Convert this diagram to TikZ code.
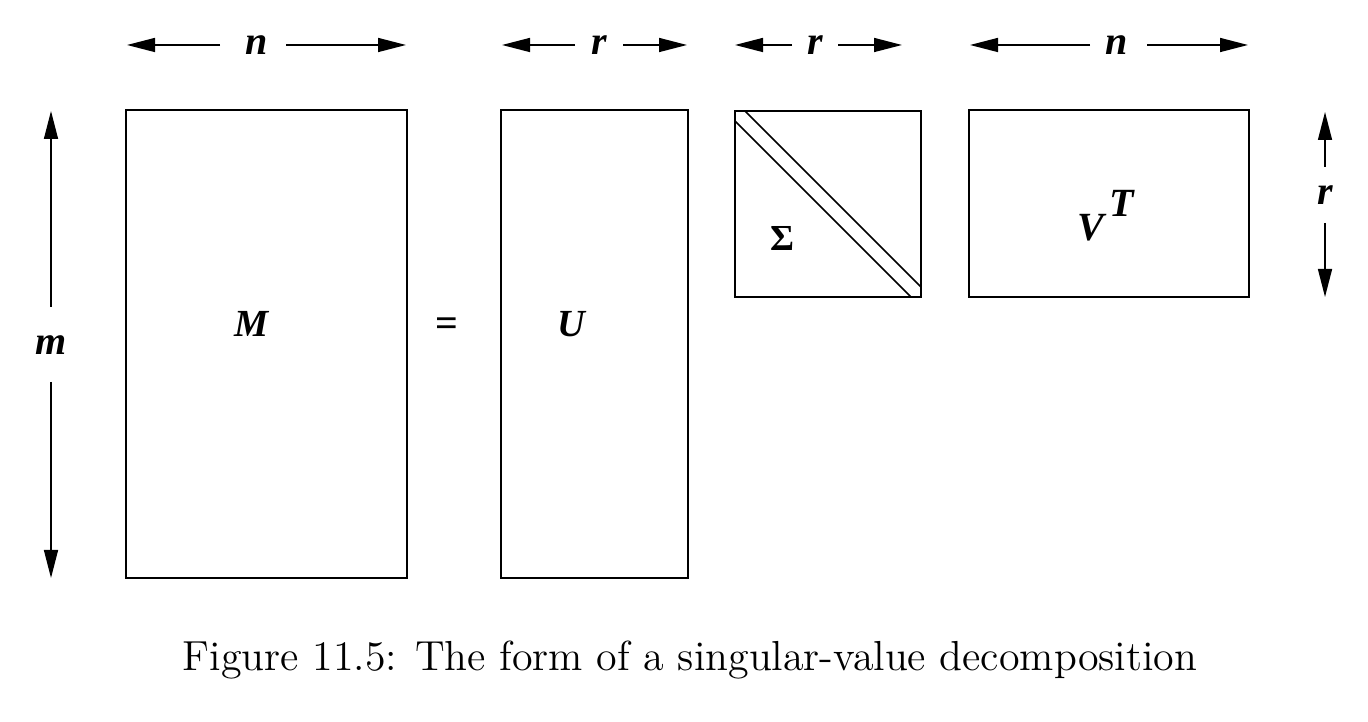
\documentclass[tikz,border=0pt]{standalone}
\usepackage{fontspec}
\newfontfamily\labfont{Liberation Serif}
\usetikzlibrary{arrows.meta}
\begin{document}
\begin{tikzpicture}[x=0.3pt,y=-0.3pt,
  line width=0.45pt,
  arr/.style={-{Triangle[length=8.4pt,width=4.2pt]}},
  mat/.style={draw,line width=0.45pt},
  biglab/.style={font=\labfont\bfseries\itshape\fontsize{11.5}{12}\selectfont,inner sep=0pt},
  dimlab/.style={font=\labfont\bfseries\itshape\fontsize{12}{13}\selectfont,inner sep=0pt},
  captext/.style={font=\fontsize{12.6}{14}\selectfont,inner sep=0pt}]
\useasboundingbox (0,0) rectangle (1368,722);
% matrices
\draw[mat] (126,110) coordinate (Mtl) rectangle (407,578) coordinate (Mbr);
\draw[mat] (501,110) coordinate (Utl) rectangle (688,578) coordinate (Ubr);
\draw[mat] (735,111) coordinate (Stl) rectangle (921,297) coordinate (Sbr);
\draw[mat] (969,110) coordinate (Vtl) rectangle (1249,297) coordinate (Vbr);
% diagonal of Sigma
\coordinate (d1a) at (745,111); \coordinate (d1b) at (921,287);
\coordinate (d2a) at (735,121); \coordinate (d2b) at (911,297);
\draw (d1a) -- (d1b);
\draw (d2a) -- (d2b);
% labels
\node[biglab] (M) at (252,324) {M};
\node[biglab] (U) at (571,324) {U};
\node[font=\labfont\bfseries\fontsize{12}{13}\selectfont,inner sep=0pt] (eq) at (447,327) {=};
\node[font=\labfont\bfseries\fontsize{11}{12}\selectfont,inner sep=0pt] (S) at (782,239) {Σ};
\node[inner sep=0pt] (V) at (1106,216) {\labfont\bfseries\itshape\fontsize{12}{13}\selectfont V\hspace{1.5pt}\raisebox{1.3ex}{T}};
% top dimension arrows
\node[dimlab] (n1) at (257,45) {n};
\coordinate (n1l) at (220,45); \coordinate (n1r) at (286,45);
\coordinate (n1L) at (127,45); \coordinate (n1R) at (406,45);
\draw[arr] (n1l) -- (n1L); \draw[arr] (n1r) -- (n1R);
\node[dimlab] (r1) at (599,45) {r};
\coordinate (r1l) at (575,45); \coordinate (r1r) at (623,45);
\coordinate (r1L) at (502,45); \coordinate (r1R) at (687,45);
\draw[arr] (r1l) -- (r1L); \draw[arr] (r1r) -- (r1R);
\node[dimlab] (r2) at (815,45) {r};
\coordinate (r2l) at (792,45); \coordinate (r2r) at (838,45);
\coordinate (r2L) at (735,45); \coordinate (r2R) at (902,45);
\draw[arr] (r2l) -- (r2L); \draw[arr] (r2r) -- (r2R);
\node[dimlab] (n2) at (1117,45) {n};
\coordinate (n2l) at (1090,45); \coordinate (n2r) at (1147,45);
\coordinate (n2L) at (970,45); \coordinate (n2R) at (1248,45);
\draw[arr] (n2l) -- (n2L); \draw[arr] (n2r) -- (n2R);
% left m arrow
\node[dimlab] (m) at (51,345) {m};
\coordinate (mt) at (51,307); \coordinate (mb) at (51,382);
\coordinate (mT) at (51,111); \coordinate (mB) at (51,578);
\draw[arr] (mt) -- (mT); \draw[arr] (mb) -- (mB);
% right r arrow
\node[dimlab] (r3) at (1325,195) {r};
\coordinate (r3t) at (1325,167); \coordinate (r3b) at (1325,223);
\coordinate (r3T) at (1325,112); \coordinate (r3B) at (1325,297);
\draw[arr] (r3t) -- (r3T); \draw[arr] (r3b) -- (r3B);
% caption
\node[captext] (caption) at (690,660) {Figure 11.5: The form of a singular-value decomposition};
\end{tikzpicture}
\end{document}
